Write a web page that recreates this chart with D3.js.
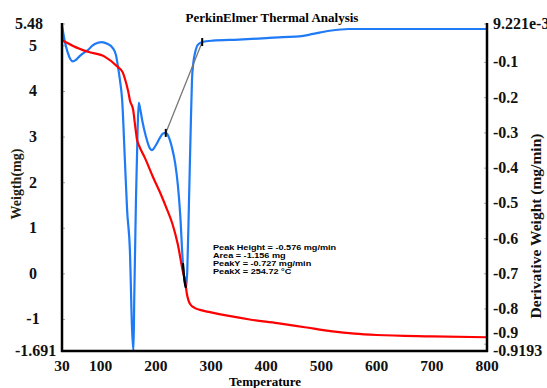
<!DOCTYPE html>
<html><head><meta charset="utf-8">
<script src="https://cdn.jsdelivr.net/npm/d3@7/dist/d3.min.js"></script>
<style>body{margin:0;background:#fff}svg{display:block}</style>
</head><body><svg id="c" width="547" height="388"></svg>
<script>
const weightTemp = [30,50,77,108,131,140,144,150,153,159,163,166,170,180,195,210,220,230,240,249,253,256,262,271,280,298,370,420,470,520,560,600,700,800];
const weightVal  = [5.13,5.0,4.87,4.76,4.54,4.42,4.28,4.0,3.81,3.59,3.2,2.94,2.8,2.55,2.12,1.72,1.42,1.1,0.64,0.05,-0.15,-0.42,-0.66,-0.75,-0.79,-0.84,-1.0,-1.08,-1.17,-1.26,-1.31,-1.34,-1.37,-1.39];
const derivTemp = [30,35,40,45,50,55,62,70,77,85,95,102,112,122,128,131,135,139,144,148,153,157,159.5,161,164,167,169,172,176,182,188,193,200,207,213,218,223,229,235,240,244,249,252,254.7,257,260,263,265.5,268,271,276,284,303,350,400,430,460,485,515,550,600,700,800];
const derivVal  = [0.005,-0.04,-0.07,-0.09,-0.097,-0.093,-0.082,-0.072,-0.065,-0.052,-0.044,-0.042,-0.047,-0.059,-0.08,-0.108,-0.15,-0.207,-0.38,-0.52,-0.633,-0.86,-0.919,-0.76,-0.49,-0.29,-0.215,-0.235,-0.27,-0.31,-0.34,-0.349,-0.335,-0.315,-0.302,-0.300,-0.31,-0.34,-0.386,-0.45,-0.528,-0.67,-0.72,-0.74,-0.69,-0.50,-0.30,-0.15,-0.10,-0.073,-0.05,-0.042,-0.038,-0.035,-0.031,-0.028,-0.026,-0.019,-0.01,-0.005,-0.005,-0.005,-0.005];
const xTicks = [30,100,200,300,400,500,600,700,800];
const leftTicks = [5.48,5,4,3,2,1,0,-1,-1.691];
const leftTickLabels = ["5.48","5","4","3","2","1","0","-1","-1.691"];
const rightTicks = [0.009221,-0.1,-0.2,-0.3,-0.4,-0.5,-0.6,-0.7,-0.8,-0.9,-0.9193];
const rightTickLabels = ["9.221e-3","-0.1","-0.2","-0.3","-0.4","-0.5","-0.6","-0.7","-0.8","-0.9","-0.9193"];
const tangentTemps = [218,284];
const tangentVals = [-0.300,-0.042];
const peakRange = [249,254.7];
const annotation = ["Peak Height = -0.576 mg/min","Area = -1.156 mg","PeakY = -0.727 mg/min","PeakX = 254.72 °C"];

const svg = d3.select("#c");
const L=62,R=487,T=24,B=351;
const x = d3.scaleLinear().domain([30,800]).range([L,R]);
const yL = d3.scaleLinear().domain([-1.691,5.48]).range([B,T]);
const yR = d3.scaleLinear().domain([-0.9193,0.009221]).range([B,T]);
const serif = "'Liberation Serif','Times New Roman','DejaVu Serif',serif";

// small inner ticks
svg.append("g").selectAll("line").data(leftTicks).join("line")
  .attr("x1",L).attr("x2",L+3).attr("y1",d=>yL(d)).attr("y2",d=>yL(d)).attr("stroke","#aaa");
svg.append("g").selectAll("line").data(rightTicks).join("line")
  .attr("x1",R-3).attr("x2",R).attr("y1",d=>yR(d)).attr("y2",d=>yR(d)).attr("stroke","#aaa");

const wData = weightTemp.map((t,i)=>[t,weightVal[i]]);
const dData = derivTemp.map((t,i)=>[t,derivVal[i]]);
const lineW = d3.line().x(d=>x(d[0])).y(d=>yL(d[1])).curve(d3.curveMonotoneX);
const lineD = d3.line().x(d=>x(d[0])).y(d=>yR(d[1])).curve(d3.curveMonotoneX);

svg.append("path").attr("d",lineD(dData)).attr("fill","none").attr("stroke","#1f7bf5").attr("stroke-width",2.2);
svg.append("path").attr("d",lineW(wData)).attr("fill","none").attr("stroke","#ff0000").attr("stroke-width",2.2);
svg.append("path").attr("d",lineD(dData.filter(d=>d[0]>=peakRange[0]&&d[0]<=peakRange[1])))
  .attr("fill","none").attr("stroke","#000").attr("stroke-width",2.2);

// tangent line
svg.append("line").attr("x1",x(tangentTemps[0])).attr("y1",yR(tangentVals[0]))
  .attr("x2",x(tangentTemps[1])).attr("y2",yR(tangentVals[1])).attr("stroke","#777").attr("stroke-width",1.3);
svg.append("g").selectAll("line").data(tangentTemps.map((t,i)=>[t,tangentVals[i]])).join("line")
  .attr("x1",d=>x(d[0])).attr("x2",d=>x(d[0])).attr("y1",d=>yR(d[1])-4).attr("y2",d=>yR(d[1])+4)
  .attr("stroke","#000").attr("stroke-width",2);

// axes lines
const axG = svg.append("g").attr("stroke","#000").attr("stroke-width",2.5);
axG.append("line").attr("x1",L).attr("x2",L).attr("y1",T-1).attr("y2",B+1);
axG.append("line").attr("x1",R).attr("x2",R).attr("y1",T-1).attr("y2",B+1);
axG.append("line").attr("x1",L-1).attr("x2",R+1).attr("y1",B).attr("y2",B);

// tick labels
svg.append("g").selectAll("text").data(xTicks).join("text")
  .attr("x",d=>x(d)).attr("y",371).attr("text-anchor","middle")
  .attr("font-family",serif).attr("font-weight","bold").attr("font-size",15.5).attr("fill","#111").text(d=>d);
const nL = leftTicks.length;
svg.append("g").selectAll("text").data(leftTicks).join("text")
  .attr("x",(d,i)=> (i===0||i===nL-1) ? 15 : 33)
  .attr("text-anchor",(d,i)=> (i===0||i===nL-1) ? "start" : "middle")
  .attr("y",d=>yL(d)+5)
  .attr("font-family",serif).attr("font-weight","bold").attr("font-size",16).attr("fill","#111")
  .text((d,i)=>leftTickLabels[i]);
const nR = rightTicks.length;
svg.append("g").selectAll("text").data(rightTicks).join("text")
  .attr("x",R+6).attr("text-anchor","start")
  .attr("y",(d,i)=>{
    let yy = yR(d)+5;
    if (i===nR-2 && yR(rightTicks[nR-1]) - yR(d) < 16) yy -= 11;
    return yy;
  })
  .attr("font-family",serif).attr("font-weight","bold").attr("font-size",16).attr("fill","#111")
  .text((d,i)=>rightTickLabels[i]);

// titles
svg.append("text").attr("x",272).attr("y",22).attr("text-anchor","middle")
  .attr("font-family",serif).attr("font-weight","bold").attr("font-size",13).text("PerkinElmer Thermal Analysis");
svg.append("text").attr("x",265).attr("y",386).attr("text-anchor","middle")
  .attr("font-family",serif).attr("font-weight","bold").attr("font-size",13).text("Temperature");
svg.append("text").attr("transform","translate(21,184) rotate(-90)").attr("text-anchor","middle")
  .attr("font-family",serif).attr("font-weight","bold").attr("font-size",14).attr("fill","#221").text("Weigth(mg)");
svg.append("text").attr("transform","translate(541,226) rotate(-90)").attr("text-anchor","middle")
  .attr("font-family",serif).attr("font-weight","bold").attr("font-size",15.5).attr("fill","#111").text("Derivative Weight (mg/min)");

// annotation
svg.append("g").selectAll("text").data(annotation).join("text")
  .attr("transform",(d,i)=>`translate(213,${250+i*8}) scale(1.2,1)`)
  .attr("font-family","'Liberation Sans',Arial,sans-serif").attr("font-weight","bold").attr("font-size",7.6).text(d=>d);
</script></body></html>
